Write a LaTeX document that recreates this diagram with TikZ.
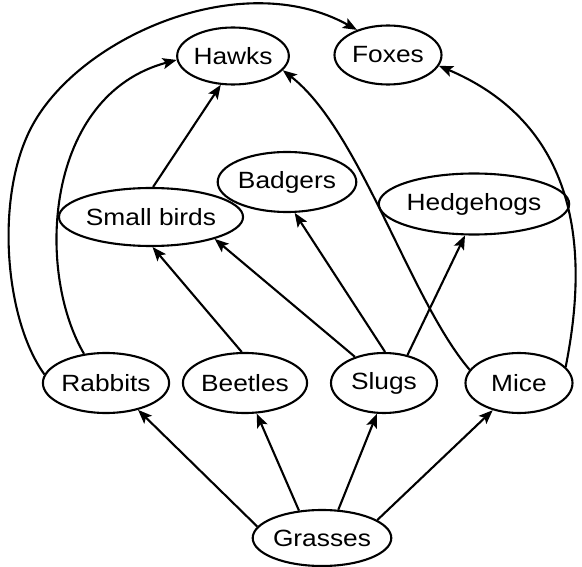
\documentclass[tikz,border=0pt]{standalone}
\usepackage{fontspec}
\setmainfont[FakeStretch=1.12]{Liberation Sans}
\usetikzlibrary{shapes.geometric,arrows.meta}
\tikzset{
  animal/.style={ellipse, draw, line width=2.1pt, inner sep=0pt, minimum height=59pt, font=\fontsize{23.5}{28}\selectfont},
  feeds/.style={line width=2.1pt, -{Stealth[length=14pt,width=11pt,inset=3pt]}}
}
\begin{document}
\begin{tikzpicture}[x=1pt,y=-1pt]
\useasboundingbox (0,0) rectangle (582,567);
\node[animal, minimum width=106pt, minimum height=57pt] (hawks) at (233,56) {Hawks};
\node[animal, minimum width=107pt] (foxes) at (388,55) {Foxes};
\node[animal, minimum width=109pt, minimum height=60pt] (badgers) at (287,182) {Badgers};
\node[animal, minimum width=158pt, minimum height=58pt] (birds) at (151,217) {Small birds};
\node[animal, minimum width=149pt, minimum height=61pt] (hedgehogs) at (474,204) {Hedgehogs};
\node[animal, minimum width=110pt, minimum height=60pt] (rabbits) at (106,383) {Rabbits};
\node[animal, minimum width=106pt, minimum height=60pt] (beetles) at (245,383) {Beetles};
\node[animal, minimum width=106pt, minimum height=60pt] (slugs) at (384,383) {Slugs};
\node[animal, minimum width=107pt, minimum height=60pt] (mice) at (519,383) {Mice};
\node[animal, minimum width=117pt, minimum height=56pt] (grasses) at (322,538) {Grasses};

\draw[feeds] (grasses.170) -- (rabbits.-40);
\draw[feeds] (grasses.130) -- (beetles.-69);
\draw[feeds] (grasses.60) -- (slugs.-103);
\draw[feeds] (grasses.18) -- (mice.-134);
\draw[feeds] (beetles.96) -- (birds.-87);
\draw[feeds] (slugs.138) -- (birds.-19);
\draw[feeds] (slugs.88) -- (badgers.-76);
\draw[feeds] (slugs.50) -- (hedgehogs.-106);
\draw[feeds] (birds.86) -- (hawks.-113);
\draw[feeds] (rabbits.127) .. controls (35,270) and (45,95) .. (hawks.184);
\draw[feeds] (rabbits.172) .. controls (5,320) and (-5,200) .. (30,130) .. controls (75,39) and (240,-35) .. (foxes.141);
\draw[feeds] (mice.165) .. controls (410,300) and (360,130) .. (hawks.-16);
\draw[feeds] (mice.19) .. controls (585,270) and (590,130) .. (foxes.-12);
\end{tikzpicture}
\end{document}
